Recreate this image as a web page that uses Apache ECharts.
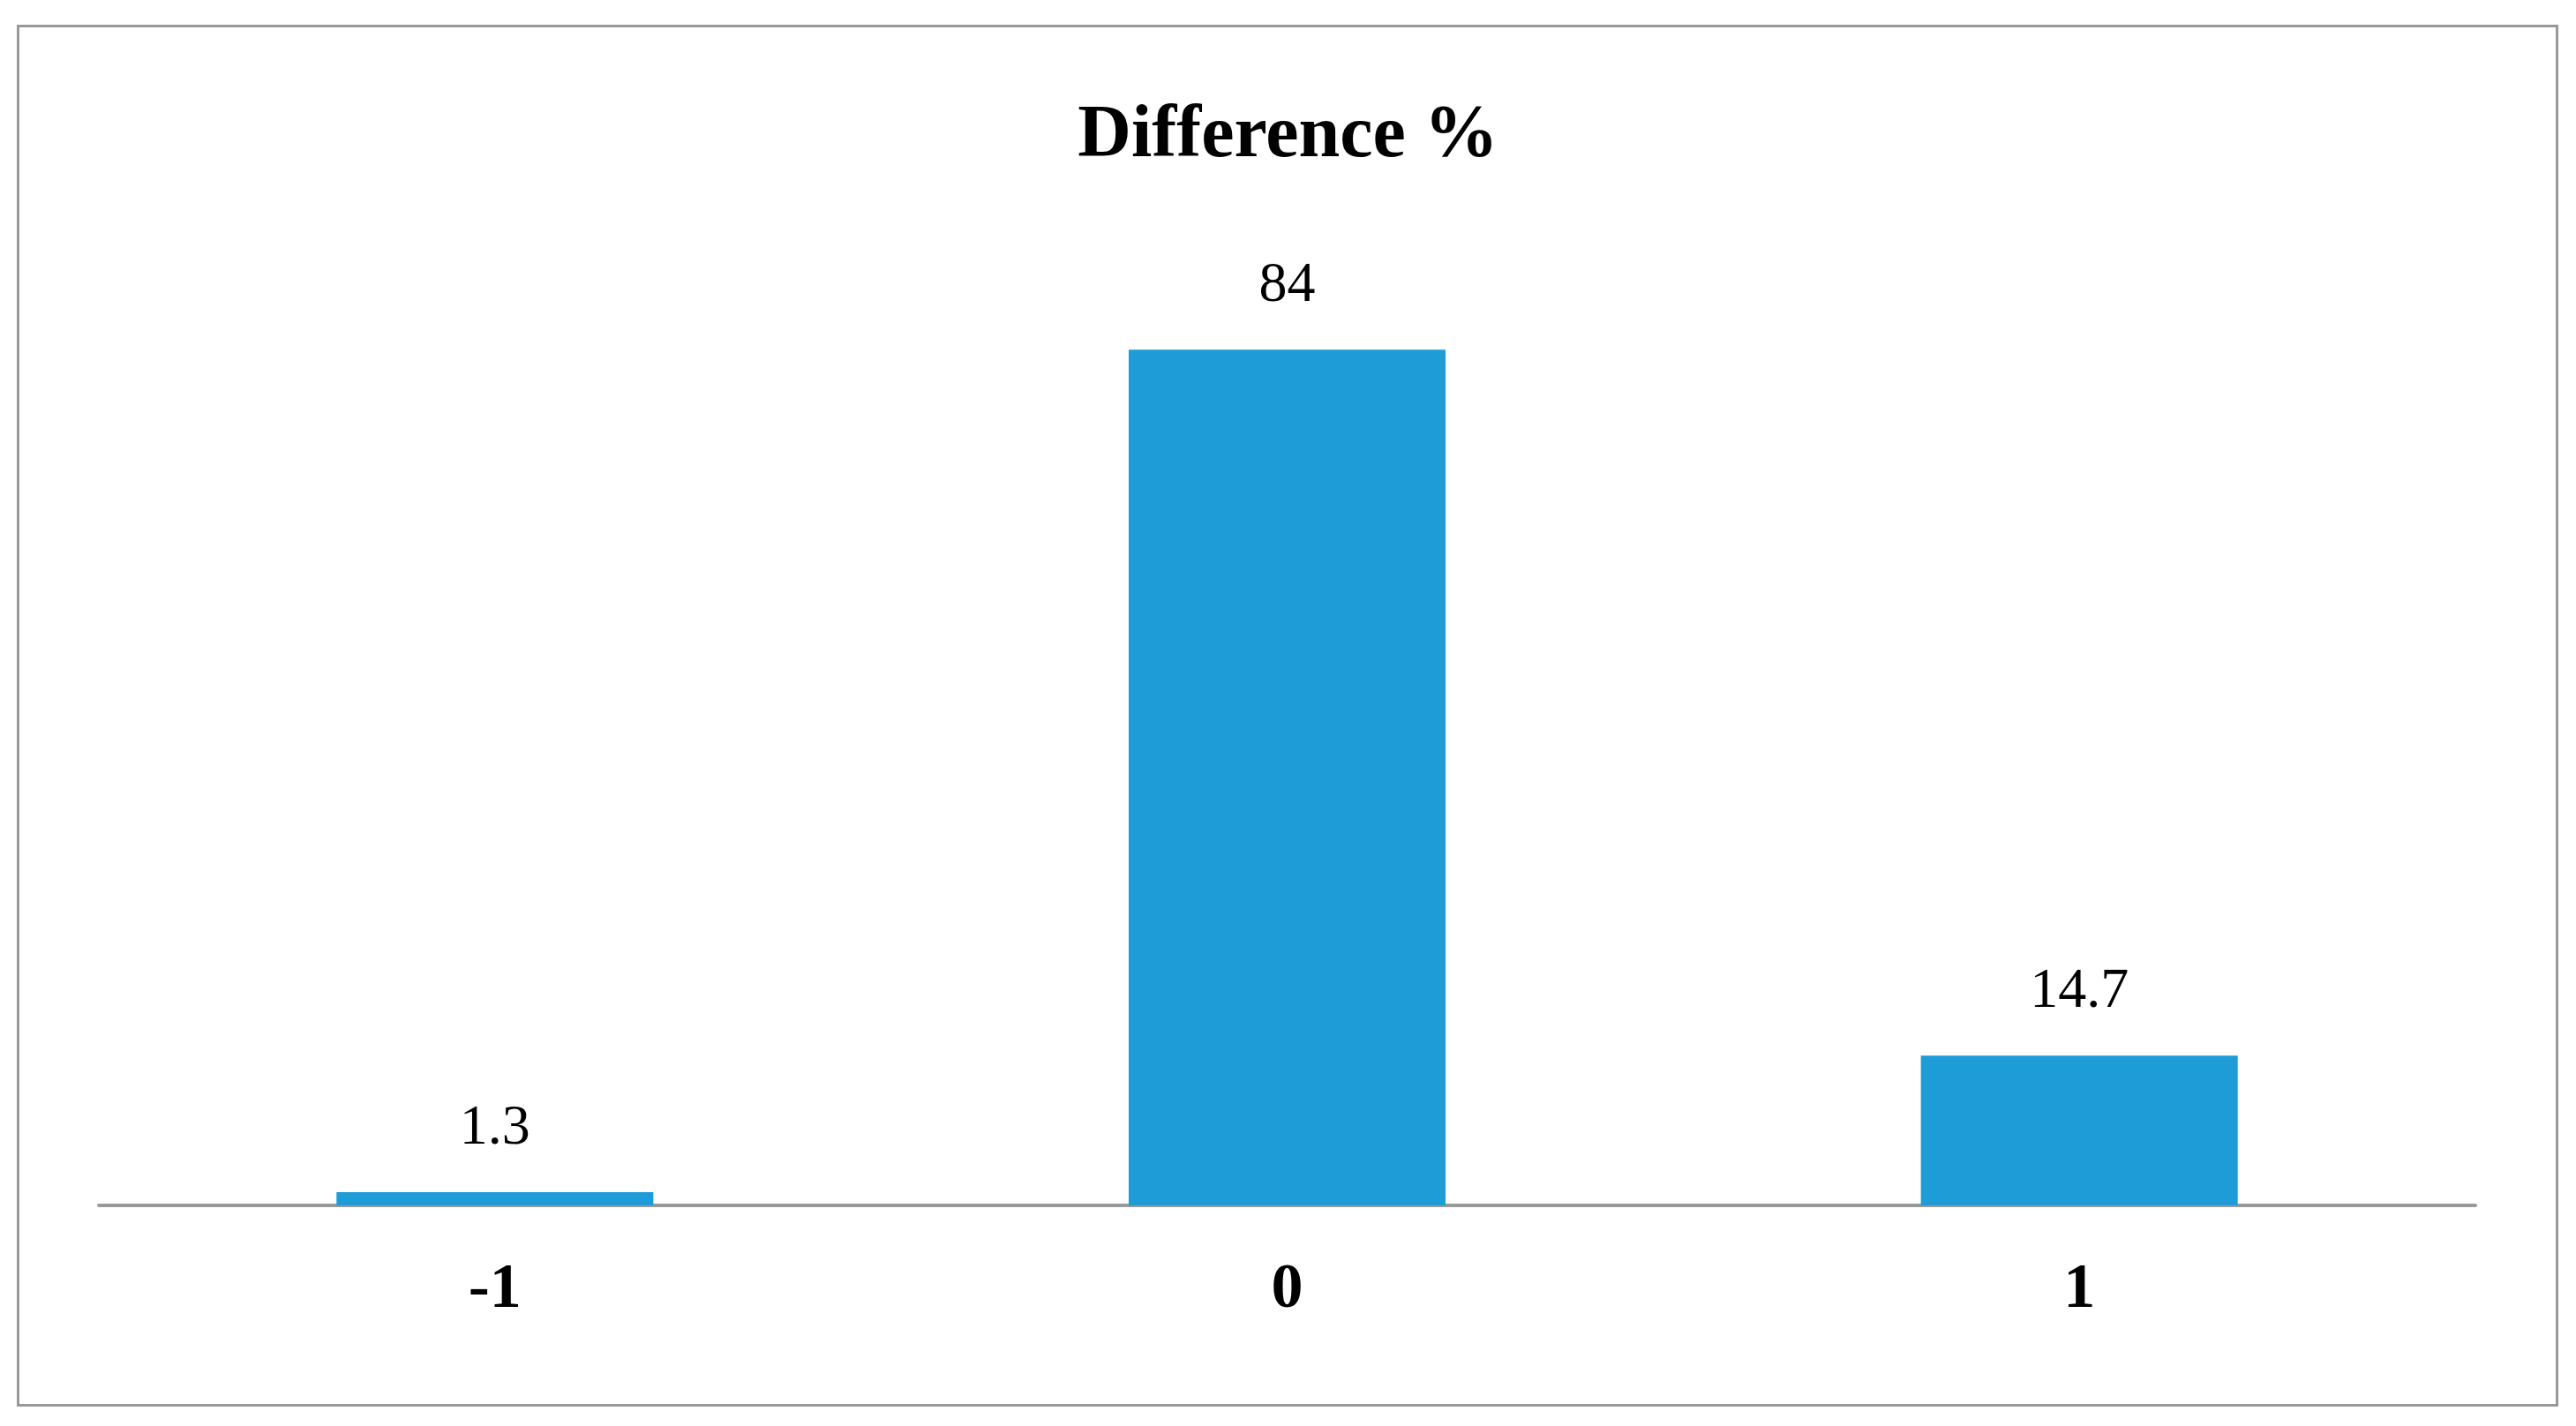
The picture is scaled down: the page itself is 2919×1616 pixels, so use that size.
<!DOCTYPE html>
<html><head><meta charset="utf-8">
<script src="https://cdn.jsdelivr.net/npm/echarts@6/dist/echarts.min.js"></script>
<style>html,body{margin:0;padding:0;background:#fff}#c{width:2919px;height:1616px}
#b{position:absolute;left:19px;top:28px;width:2880px;height:1566px;border:3px solid #999;box-sizing:border-box;pointer-events:none}</style>
</head><body><div id="c"></div><div id="b"></div>
<script>
const categories = ['-1', '0', '1'];
const values = [1.3, 84, 14.7];
const chart = echarts.init(document.getElementById('c'));
chart.setOption({
  animation: false,
  title: { text: 'Difference %', left: 'center', top: 108,
    textStyle: { fontFamily: 'Liberation Serif', fontWeight: 'bold', fontSize: 84, color: '#000' } },
  grid: { left: 112, right: 114, top: 327, bottom: 250 },
  xAxis: { type: 'category', data: categories,
    axisLine: { lineStyle: { color: '#999', width: 4 } }, axisTick: { show: false },
    axisLabel: { margin: 60, fontFamily: 'Liberation Serif', fontWeight: 'bold', fontSize: 72, color: '#000' } },
  yAxis: { type: 'value', min: 0, max: 90, show: false, splitLine: { show: false } },
  series: [{ type: 'bar', data: values, barWidth: '40%',
    itemStyle: { color: '#1E9CD7' },
    label: { show: true, position: 'top', distance: 40, fontFamily: 'Liberation Serif', fontSize: 64, color: '#000' } }]
});
</script></body></html>
